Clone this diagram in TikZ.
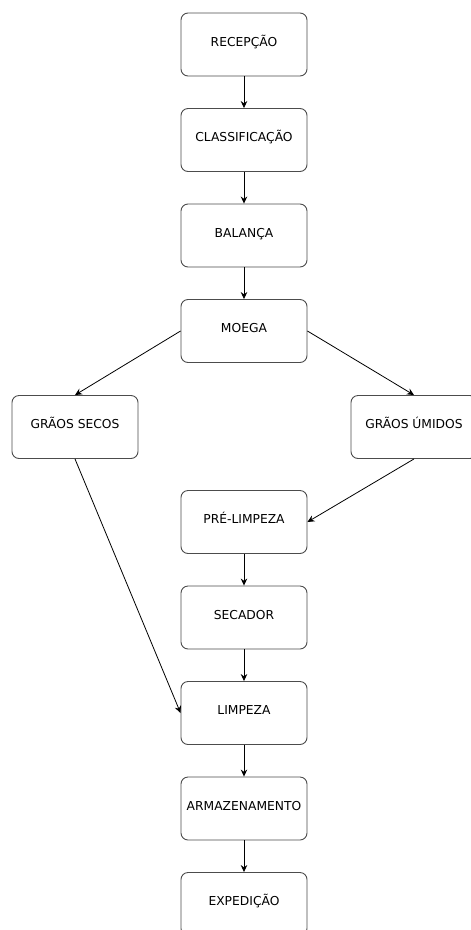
\documentclass[tikz,border=0pt]{standalone}
\usepackage{fontspec}
\setmainfont{DejaVu Sans}
\usetikzlibrary{arrows.meta}

\tikzset{
    etapa/.style={draw=black!70, line width=0.9pt, rounded corners=7pt, fill=white,
        minimum width=126pt, minimum height=63pt, inner sep=0pt,
        text height=8pt, text depth=5pt, font=\fontsize{12.3}{14}\selectfont},
    fluxo/.style={-{Stealth[length=7pt,width=6.5pt]}, line width=0.8pt}
}

\begin{document}
\begin{tikzpicture}[x=1pt, y=1pt, node distance=95.5pt]
    \useasboundingbox (0,0) rectangle (471,-930);

    \node [etapa] (recepcao) at (244,-44.5) {RECEPÇÃO};
    \node [etapa, below of=recepcao] (classificacao) {CLASSIFICAÇÃO};
    \node [etapa, below of=classificacao] (balanca) {BALANÇA};
    \node [etapa, below of=balanca] (moega) {MOEGA};
    \node [etapa] (secos) at (75,-427) {GRÃOS SECOS};
    \node [etapa] (umidos) at (414,-427) {GRÃOS ÚMIDOS};
    \node [etapa, below of=moega, node distance=191pt] (prelimpeza) {PRÉ-LIMPEZA};
    \node [etapa, below of=prelimpeza] (secador) {SECADOR};
    \node [etapa, below of=secador] (limpeza) {LIMPEZA};
    \node [etapa, below of=limpeza] (armazenamento) {ARMAZENAMENTO};
    \node [etapa, below of=armazenamento] (expedicao) {EXPEDIÇÃO};

    \draw[fluxo] (recepcao) -- (classificacao);
    \draw[fluxo] (classificacao) -- (balanca);
    \draw[fluxo] (balanca) -- (moega);
    \draw[fluxo] (moega.west) -- (secos.north);
    \draw[fluxo] (moega.east) -- (umidos.north);
    \draw[fluxo] (umidos.south) -- (prelimpeza.east);
    \draw[fluxo] (secos.south) -- (limpeza.west);
    \draw[fluxo] (prelimpeza) -- (secador);
    \draw[fluxo] (secador) -- (limpeza);
    \draw[fluxo] (limpeza) -- (armazenamento);
    \draw[fluxo] (armazenamento) -- (expedicao);
\end{tikzpicture}
\end{document}
